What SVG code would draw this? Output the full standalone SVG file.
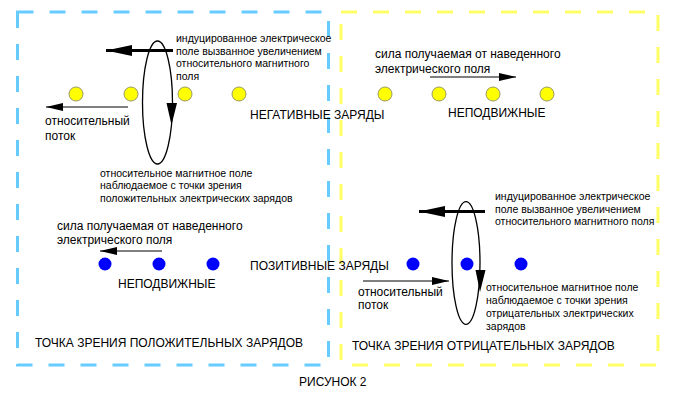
<svg xmlns="http://www.w3.org/2000/svg" width="676" height="400" viewBox="0 0 676 400">
<style>
text{font-family:"Liberation Sans",Arial,sans-serif;fill:#000}
.s{font-size:10.5px}
.m{font-size:12px}
.b{font-size:12px}
.frame{fill:none;stroke-width:3;stroke-dasharray:16 16}
.ye{fill:#ffff00;stroke:#999966;stroke-width:1}
.bl{fill:#0000ff}
.thin{stroke:#000;stroke-width:1.2;fill:none}
.thick{stroke:#000;stroke-width:3;fill:none}
.ell{fill:none;stroke:#000;stroke-width:1.3}
</style>
<defs>
<marker id="aThin" markerUnits="userSpaceOnUse" viewBox="0 0 17 8" markerWidth="17" markerHeight="8" refX="17" refY="4" orient="auto"><path d="M0,0 L17,4 L0,8 z" fill="#000"/></marker>
<marker id="aThick" markerUnits="userSpaceOnUse" viewBox="0 0 26 11" markerWidth="26" markerHeight="11" refX="26" refY="5.5" orient="auto"><path d="M0,0 L26,5.5 L0,11 z" fill="#000"/></marker>
</defs>
<rect width="676" height="400" fill="#fff"/>
<g id="frame-positive"><rect class="frame" x="17.5" y="12" width="311" height="353" stroke="#66ccff"/></g>
<g id="frame-negative"><rect class="frame" x="341" y="12" width="317" height="353" stroke="#ffff66"/></g>

<g id="negative-charges-left">
<circle class="ye" cx="76" cy="94" r="7"/><circle class="ye" cx="131" cy="94" r="7"/><circle class="ye" cx="185" cy="94" r="7"/><circle class="ye" cx="239" cy="94" r="7"/>
</g>
<g id="negative-charges-right">
<circle class="ye" cx="385" cy="94" r="7"/><circle class="ye" cx="439" cy="94" r="7"/><circle class="ye" cx="493" cy="94" r="7"/><circle class="ye" cx="547" cy="94" r="7"/>
</g>
<g id="positive-charges-left">
<circle class="bl" cx="105" cy="264" r="6.5"/><circle class="bl" cx="159" cy="264" r="6.5"/><circle class="bl" cx="213" cy="264" r="6.5"/>
</g>
<g id="positive-charges-right">
<circle class="bl" cx="413" cy="264" r="6.5"/><circle class="bl" cx="467" cy="264" r="6.5"/><circle class="bl" cx="521" cy="264" r="6.5"/>
</g>

<g id="field-loop-left">
<ellipse class="ell" cx="157.5" cy="102.5" rx="15" ry="61.5"/>
<polygon points="166.5,103 177,103 171.5,125" fill="#000"/>
</g>
<g id="field-loop-right">
<ellipse class="ell" cx="466" cy="263" rx="14" ry="61.3"/>
<polygon points="475.5,270 485.5,270 480,292" fill="#000"/>
</g>

<g id="connectors">
<line class="thick" x1="173" y1="50.5" x2="106" y2="50.5" marker-end="url(#aThick)"/>
<line class="thin" x1="128" y1="107" x2="46" y2="107" marker-end="url(#aThin)"/>
<line class="thin" x1="430" y1="77" x2="516" y2="77" marker-end="url(#aThin)"/>
<line class="thin" x1="162" y1="251" x2="100" y2="251" marker-end="url(#aThin)"/>
<line class="thick" x1="485" y1="211.5" x2="419" y2="211.5" marker-end="url(#aThick)"/>
<line class="thin" x1="363" y1="281" x2="449" y2="281" marker-end="url(#aThin)"/>
</g>

<g id="labels">
<text class="s" x="176" y="42">индуцированное электрическое</text>
<text class="s" x="176" y="54.5">поле вызванное увеличением</text>
<text class="s" x="176" y="67">относительного магнитного</text>
<text class="s" x="176" y="79.5">поля</text>

<text class="b" x="250" y="118.5">НЕГАТИВНЫЕ ЗАРЯДЫ</text>
<text class="b" x="448" y="117">НЕПОДВИЖНЫЕ</text>

<text class="m" x="45" y="125">относительный</text>
<text class="m" x="45" y="139.5">поток</text>

<text class="s" x="100" y="176.5">относительное магнитное поле</text>
<text class="s" x="100" y="189">наблюдаемое с точки зрения</text>
<text class="s" x="100" y="201.5">положительных электрических зарядов</text>

<text class="m" x="375" y="58">сила получаемая от наведенного</text>
<text class="m" x="375" y="72.5">электрического поля</text>

<text class="m" x="57" y="230">сила получаемая от наведенного</text>
<text class="m" x="57" y="243.5">электрического поля</text>

<text class="b" x="250" y="270">ПОЗИТИВНЫЕ ЗАРЯДЫ</text>
<text class="b" x="118" y="287.5">НЕПОДВИЖНЫЕ</text>

<text class="s" x="495" y="200">индуцированное электрическое</text>
<text class="s" x="495" y="212.5">поле вызванное увеличением</text>
<text class="s" x="495" y="225">относительного магнитного поля</text>

<text class="m" x="358" y="296">относительный</text>
<text class="m" x="358" y="308.5">поток</text>

<text class="s" x="486" y="291">относительное магнитное поле</text>
<text class="s" x="486" y="304">наблюдаемое с точки зрения</text>
<text class="s" x="486" y="317">отрицательных электрических</text>
<text class="s" x="486" y="329.5">зарядов</text>

<text class="b" x="35" y="346.5">ТОЧКА ЗРЕНИЯ ПОЛОЖИТЕЛЬНЫХ ЗАРЯДОВ</text>
<text class="b" x="352" y="349.5">ТОЧКА ЗРЕНИЯ ОТРИЦАТЕЛЬНЫХ ЗАРЯДОВ</text>
<text class="b" x="299" y="386">РИСУНОК 2</text>
</g>
</svg>
